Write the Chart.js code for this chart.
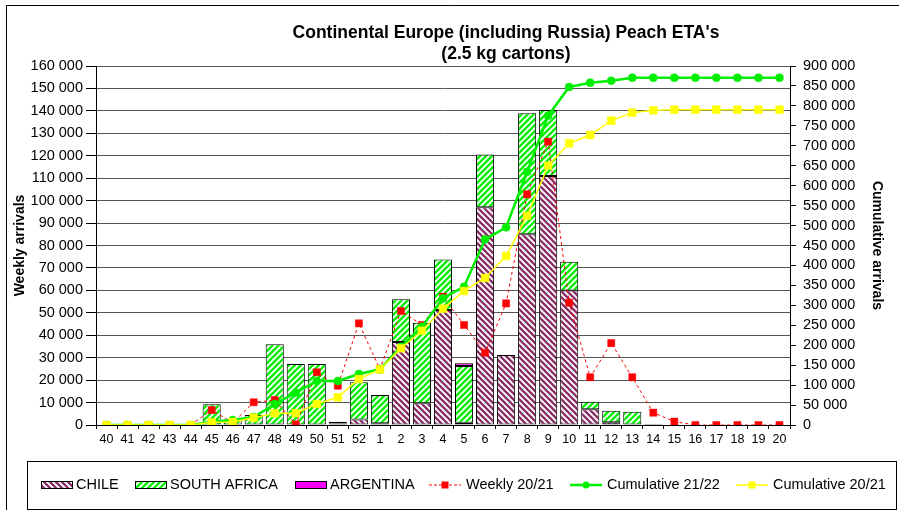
<!DOCTYPE html>
<html lang="en">
<head>
    <meta charset="UTF-8">
    <title>Continental Europe (including Russia) Peach ETA's</title>
    <script src="https://cdn.jsdelivr.net/npm/chart.js"></script>
    <style>
        body { margin: 0; background: #fff; }
        canvas { display: block; }
    </style>
</head>
<body>
    <canvas id="etaChart" width="899" height="510"></canvas>
    <script>
// week numbers of the season
const weeks = ['40', '41', '42', '43', '44', '45', '46', '47', '48', '49', '50', '51', '52',
    '1', '2', '3', '4', '5', '6', '7', '8', '9', '10', '11', '12', '13', '14', '15', '16', '17', '18', '19', '20'];

// weekly arrivals 21/22 per origin (cartons)
const chile = [null, null, null, null, null, null, null, null, null, null, null, 700, 2500,
    800, 37000, 9700, 51300, 1000, 97000, 31200, 85000, 111000, 59900, 7000, 1200, null, 400, null, null, null, null, null, null];
const southAfrica = [null, null, null, 300, 300, 9200, 2500, 4500, 36000, 27200, 27200, 800, 16500,
    12600, 19000, 35900, 22500, 25300, 23600, null, 53900, 29400, 12900, 3400, 5200, 5900, null, null, null, null, null, null, null];
const argentina = [null, null, null, null, null, null, null, null, null, null, null, null, null,
    null, null, null, null, 1200, null, null, null, null, null, null, null, null, null, null, null, null, null, null, null];

// last season weekly + cumulative lines
const weekly2021 = [0, 0, 0, 0, 0, 6700, 1000, 10100, 11100, 300, 23500, 17500, 45300,
    24800, 50800, 44600, 57200, 44600, 32200, 54200, 102800, 126300, 54500, 21300, 36500, 21300, 5500, 1500, 0, 0, 0, 0, 0];
const cumulative2122 = [0, 0, 0, 0, 0, 8000, 12500, 20000, 52600, 81000, 110300, 110300, 127900,
    139600, 196300, 246400, 317600, 346700, 465500, 495600, 635000, 775400, 847400, 858200, 863200, 870700, 870700, 870700, 870700, 870700, 870700, 870700, 870700];
const cumulative2021 = [0, 0, 0, 0, 0, 6800, 7700, 18300, 29300, 29600, 52600, 69400, 115300,
    139600, 192300, 236400, 291600, 336000, 368500, 423700, 524700, 650100, 706200, 727000, 763000, 783000, 789000, 790500, 790500, 790500, 790500, 790500, 790500];

// axis ranges
const weeklyMax = 160000, weeklyStep = 10000;
const cumulativeMax = 900000, cumulativeStep = 50000;

const titleLines = ["Continental Europe (including Russia) Peach ETA's", '(2.5 kg cartons)'];

const family = "'Liberation Sans', Arial, sans-serif";
Chart.defaults.font.family = family;
Chart.defaults.color = '#000';

const canvas = document.getElementById('etaChart');
const ctx = canvas.getContext('2d');

// diagonal hatch pattern for the bars
function makeHatch(color, dir) {
    const size = 6;
    const c = document.createElement('canvas');
    c.width = size;
    c.height = size;
    const g = c.getContext('2d');
    g.fillStyle = '#fff';
    g.fillRect(0, 0, size, size);
    g.strokeStyle = color;
    g.lineWidth = 2.3;
    g.beginPath();
    if (dir === '/') {
        g.moveTo(-1, size + 1); g.lineTo(size + 1, -1);
        g.moveTo(-1, 1); g.lineTo(1, -1);
        g.moveTo(size - 1, size + 1); g.lineTo(size + 1, size - 1);
    } else {
        g.moveTo(-1, -1); g.lineTo(size + 1, size + 1);
        g.moveTo(size - 1, -1); g.lineTo(size + 1, 1);
        g.moveTo(-1, size - 1); g.lineTo(1, size + 1);
    }
    g.stroke();
    return ctx.createPattern(c, 'repeat');
}

const chileFill = makeHatch('#8a3068', '\\');
const saFill = makeHatch('#00f000', '/');

const fmt = v => String(v).replace(/\B(?=(\d{3})+(?!\d))/g, ' ');

// title, frame and boxed legend
const decorations = {
    id: 'decorations',
    afterDraw(chart) {
        const c = chart.ctx;
        c.save();
        c.strokeStyle = '#000';
        c.lineWidth = 1;
        c.beginPath();
        c.moveTo(6.5, 520); c.lineTo(6.5, 5.5); c.lineTo(910, 5.5);
        c.stroke();

        c.fillStyle = '#000';
        c.textAlign = 'center';
        c.textBaseline = 'middle';
        c.font = 'bold 17.5px ' + family;
        c.fillText(titleLines[0], 506, 33);
        c.fillText(titleLines[1], 506, 54);

        // legend
        c.strokeRect(27.5, 461.5, 869, 48);
        const y = 485;
        c.font = '14.5px ' + family;
        c.textAlign = 'left';
        const swatch = (x, fill, text) => {
            c.fillStyle = fill;
            c.fillRect(x, y - 3.5, 31, 7);
            c.strokeStyle = '#000';
            c.strokeRect(x + 0.5, y - 3.5, 31, 7);
            c.fillStyle = '#000';
            c.fillText(text, x + 35, y);
        };
        swatch(41, chileFill, 'CHILE');
        swatch(135, saFill, 'SOUTH AFRICA');
        swatch(295, '#ff00ff', 'ARGENTINA');

        const lineItem = (x, color, width, dash, marker, text) => {
            c.strokeStyle = color;
            c.lineWidth = width;
            c.setLineDash(dash);
            c.beginPath();
            c.moveTo(x, y); c.lineTo(x + 32, y);
            c.stroke();
            c.setLineDash([]);
            c.fillStyle = color;
            if (marker === 'rect') {
                c.fillRect(x + 12.5, y - 3.5, 7, 7);
            } else {
                c.beginPath();
                c.arc(x + 16, y, 3.5, 0, Math.PI * 2);
                c.fill();
            }
            c.fillStyle = '#000';
            c.fillText(text, x + 37, y);
        };
        lineItem(429, '#ff0000', 1, [3, 2], 'rect', 'Weekly 20/21');
        lineItem(570, '#00ee00', 2.5, [], 'circle', 'Cumulative 21/22');
        lineItem(736, '#ffff00', 1.5, [], 'rect', 'Cumulative 20/21');
        c.restore();
    }
};

new Chart(ctx, {
    type: 'bar',
    data: {
        labels: weeks,
        datasets: [
            {
                type: 'line', label: 'Cumulative 20/21', data: cumulative2021, yAxisID: 'y1',
                borderColor: '#ffff00', backgroundColor: '#ffff00', borderWidth: 1.5,
                pointStyle: 'rect', pointRadius: 5.5, pointBorderWidth: 0.5, order: 0
            },
            {
                type: 'line', label: 'Cumulative 21/22', data: cumulative2122, yAxisID: 'y1',
                borderColor: '#00ee00', backgroundColor: '#00ee00', borderWidth: 2.5,
                pointRadius: 4, pointBorderWidth: 0.5, order: 1
            },
            {
                type: 'line', label: 'Weekly 20/21', data: weekly2021, yAxisID: 'y', stack: 'weekly',
                borderColor: '#ff0000', backgroundColor: '#ff0000', borderWidth: 1, borderDash: [3, 3],
                pointStyle: 'rect', pointRadius: 5, pointBorderWidth: 0.5, order: 2
            },
            {
                label: 'CHILE', data: chile, backgroundColor: chileFill,
                borderColor: '#000', borderWidth: 1, borderSkipped: false, order: 3
            },
            {
                label: 'SOUTH AFRICA', data: southAfrica, backgroundColor: saFill,
                borderColor: '#000', borderWidth: 1, borderSkipped: false, order: 3
            },
            {
                label: 'ARGENTINA', data: argentina, backgroundColor: '#ff00ff',
                borderColor: '#000', borderWidth: 1, borderSkipped: false, order: 3
            }
        ]
    },
    options: {
        responsive: false,
        devicePixelRatio: 1,
        animation: false,
        layout: { padding: { top: 66 } },
        datasets: {
            bar: { categoryPercentage: 1, barPercentage: 0.86 }
        },
        plugins: {
            legend: { display: false },
            title: { display: false },
            tooltip: { enabled: false }
        },
        scales: {
            x: {
                stacked: true,
                grid: { drawOnChartArea: false, tickLength: 4, color: '#000', offset: true },
                border: { color: '#000' },
                ticks: { font: { size: 12.5 }, maxRotation: 0, autoSkip: false, padding: 3 },
                afterFit: s => { s.height = 85; }
            },
            y: {
                stacked: true,
                min: 0,
                max: weeklyMax,
                ticks: { stepSize: weeklyStep, callback: fmt, font: { size: 14.5 }, padding: 3, autoSkip: false },
                grid: { color: '#555', tickColor: '#000', tickLength: 10 },
                border: { color: '#000' },
                title: {
                    display: true, text: 'Weekly arrivals',
                    font: { size: 14, weight: 'bold' }, padding: { top: 12 }
                },
                afterFit: s => { s.width = 96; }
            },
            y1: {
                position: 'right',
                min: 0,
                max: cumulativeMax,
                ticks: { stepSize: cumulativeStep, callback: fmt, font: { size: 14.5 }, padding: 7, autoSkip: false },
                grid: { drawOnChartArea: false, color: '#000', tickLength: 6 },
                border: { color: '#000' },
                title: {
                    display: true, text: 'Cumulative arrivals',
                    font: { size: 14, weight: 'bold' }, padding: { top: 13.5 }
                },
                afterFit: s => { s.width = 109; }
            }
        }
    },
    plugins: [decorations]
});
    </script>
</body>
</html>
